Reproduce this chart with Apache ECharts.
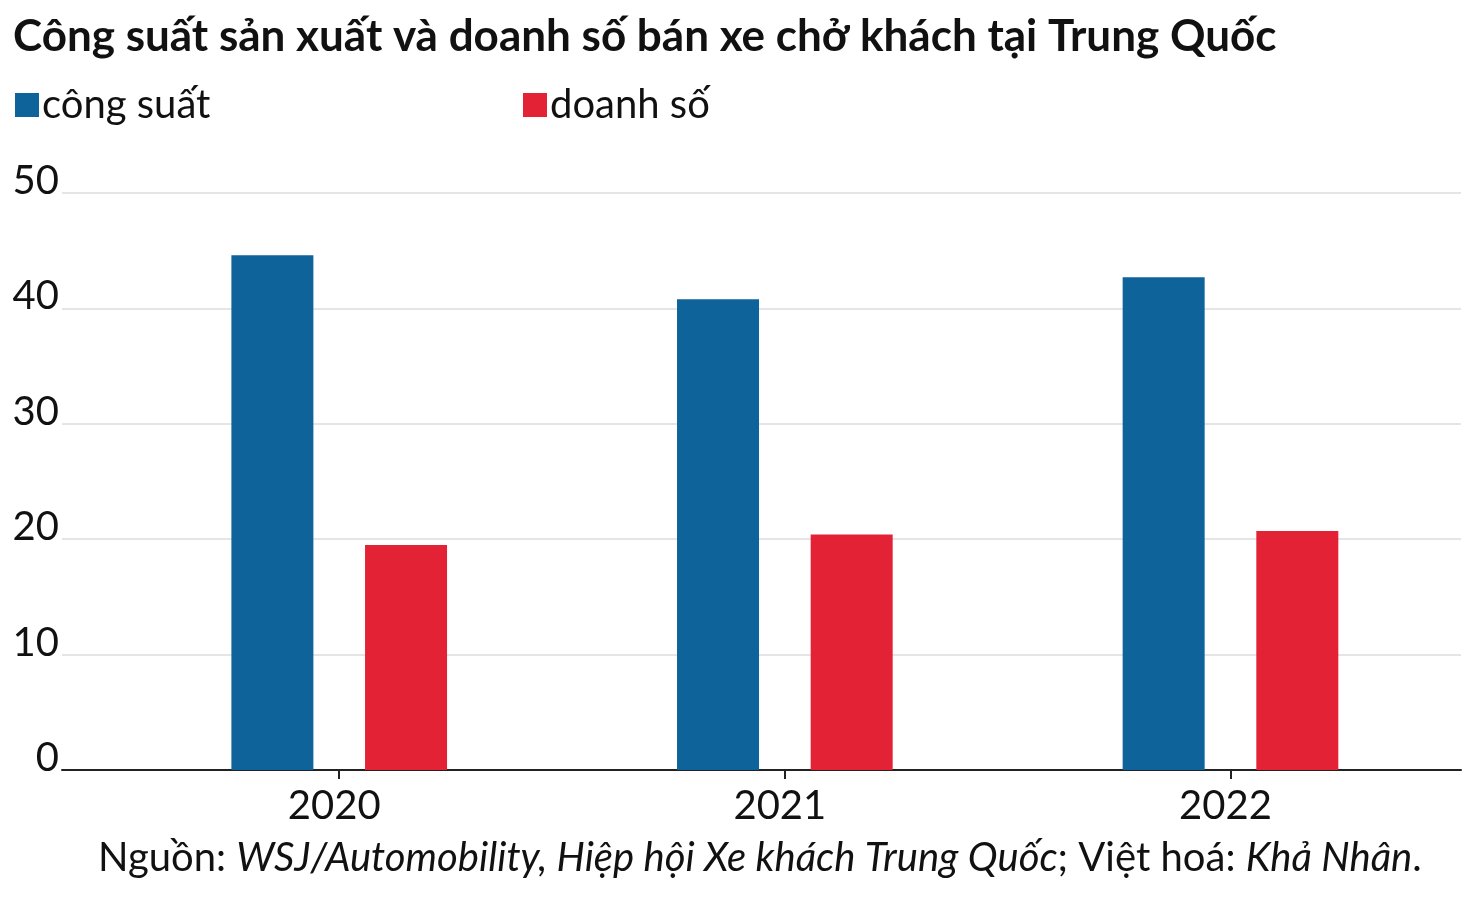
<!DOCTYPE html>
<html><head><meta charset="utf-8">
<script src="https://cdn.jsdelivr.net/npm/echarts@6/dist/echarts.min.js"></script>
<style>html,body{margin:0;padding:0;background:#fff}#c{width:1481px;height:903px}</style>
</head><body><div id="c"></div>
<script>
const titleText = 'Công suất sản xuất và doanh số bán xe chở khách tại Trung Quốc';
const categories = ['2020', '2021', '2022'];
const capacity = [44.6, 40.8, 42.7];
const sales = [19.5, 20.4, 20.7];
const seriesNames = ['công suất', 'doanh số'];
const yTicks = [0, 10, 20, 30, 40, 50];

const FONT = 'Lato, "Noto Sans", sans-serif';
const BLUE = '#0f639b';
const RED = '#e32335';
const chart = echarts.init(document.getElementById('c'), null, {renderer: 'canvas'});
chart.setOption({
  animation: false,
  backgroundColor: '#fff',
  textStyle: {fontFamily: FONT},
  title: {
    text: titleText, left: 8, top: 10,
    textStyle: {fontFamily: FONT, fontWeight: 'bold', fontSize: 44, color: '#111'}
  },
  legend: [
    {data: [seriesNames[0]], left: 10, top: 80, icon: 'rect', itemWidth: 24, itemHeight: 24,
     itemGap: 6, textStyle: {fontFamily: FONT, fontSize: 40, color: '#111', padding: [0,0,0,-2]}},
    {data: [seriesNames[1]], left: 518, top: 80, icon: 'rect', itemWidth: 24, itemHeight: 24,
     itemGap: 6, textStyle: {fontFamily: FONT, fontSize: 40, color: '#111', padding: [0,0,0,-2]}}
  ],
  grid: [
    {left: 62, right: 20, top: 193, bottom: 133},
    {left: 116.4, right: 27.7, top: 193, bottom: 133}
  ],
  xAxis: [
    {gridIndex: 0, type: 'value', min: 0, max: 1, axisLine: {show: true, onZero: false, lineStyle: {color: '#222', width: 2}},
     axisTick: {show: false}, axisLabel: {show: false}, splitLine: {show: false}},
    {gridIndex: 1, type: 'category', data: categories, axisLine: {show: false},
     axisTick: {show: true, alignWithLabel: true, length: 9, lineStyle: {color: '#222', width: 2}},
     axisLabel: {fontFamily: FONT, fontSize: 40, color: '#111', margin: 16, padding: [0, 10, 0, 0]}}
  ],
  yAxis: [
    {gridIndex: 0, type: 'value', min: 0, max: 50, interval: 10,
     axisLine: {show: false}, axisTick: {show: false},
     splitLine: {lineStyle: {color: '#dcdcdc', width: 1.5}},
     axisLabel: {fontFamily: FONT, fontSize: 40, color: '#111', margin: 3, verticalAlign: 'bottom', lineHeight: 40, padding: [0,0,-8,0],
       formatter: v => yTicks.includes(v) ? String(v) : ''}},
    {gridIndex: 1, type: 'value', min: 0, max: 50, interval: 10, show: false, splitLine: {show: false}}
  ],
  series: [
    {name: seriesNames[0], type: 'bar', xAxisIndex: 1, yAxisIndex: 1, data: capacity,
     barWidth: 82, barGap: '63%', itemStyle: {color: BLUE}},
    {name: seriesNames[1], type: 'bar', xAxisIndex: 1, yAxisIndex: 1, data: sales,
     barWidth: 82, barGap: '63%', itemStyle: {color: RED}}
  ],
  graphic: [
    {type: 'text', left: 98, top: 838, style: {
      rich: {
        n: {fontFamily: FONT, fontSize: 40, fill: '#111'},
        i: {fontFamily: FONT, fontSize: 40, fill: '#111', fontStyle: 'italic'}
      },
      text: '{n|Nguồn: }{i|WSJ/Automobility, Hiệp hội Xe khách Trung Quốc}{n|; Việt hoá: }{i|Khả Nhân}{n|.}'
    }}
  ]
});
</script></body></html>
